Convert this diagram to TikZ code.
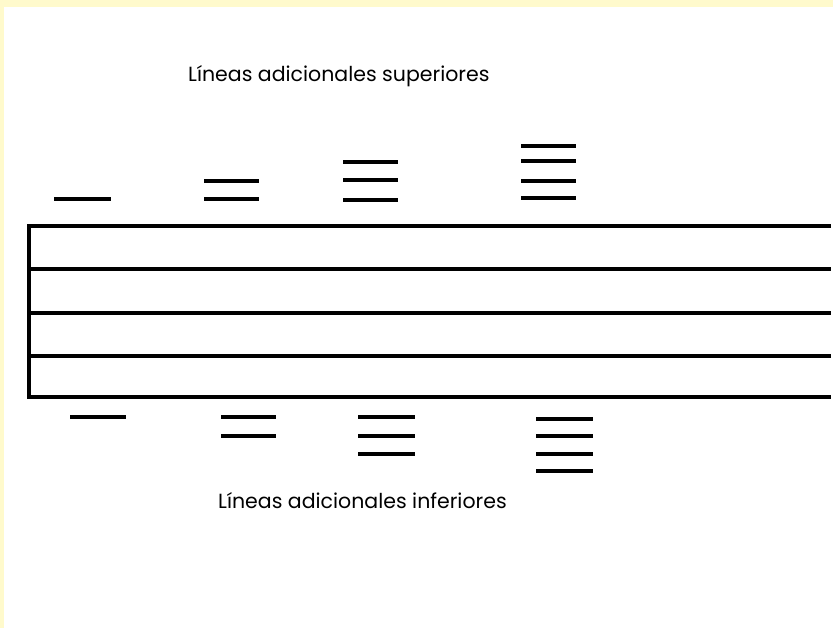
\documentclass[tikz,border=0pt]{standalone}
\usepackage{fontspec}
\setmainfont{Poppins}
\definecolor{marco}{RGB}{255,250,204}
\tikzset{
  pentagrama/.style={black, line width=3.8pt},
  adicional/.style={black, line width=3.8pt},
  rotulo/.style={font=\fontsize{20.5}{24}\selectfont, inner sep=0pt}
}
\begin{document}
\begin{tikzpicture}[x=1pt, y=-1pt]
  % fondo y marco
  \fill [marco] (0,0) rectangle (833,628);
  \fill [white] (4,7) rectangle (833,628);
  \useasboundingbox (0,0) rectangle (833,628);
  % pentagrama
  \foreach \y in {226,269,313,356,397}
    \draw [pentagrama] (28,\y) -- (831,\y);
  \draw [pentagrama] (29,224.1) -- (29,398.9);
  % lineas superiores
  \foreach \y in {199}
    \draw [adicional] (54,\y) -- (111,\y);
  \foreach \y in {181,199}
    \draw [adicional] (204,\y) -- (259,\y);
  \foreach \y in {162,180,200}
    \draw [adicional] (343,\y) -- (398,\y);
  \foreach \y in {146,161,181,198}
    \draw [adicional] (521,\y) -- (576,\y);
  % lineas inferiores
  \foreach \y in {417}
    \draw [adicional] (70,\y) -- (126,\y);
  \foreach \y in {417,436}
    \draw [adicional] (221,\y) -- (276,\y);
  \foreach \y in {417,436,454}
    \draw [adicional] (358,\y) -- (415,\y);
  \foreach \y in {419,436,454,471}
    \draw [adicional] (536,\y) -- (593,\y);
  % rotulos
  \node [rotulo, anchor=west] (superiores) at (188,76) {Líneas adicionales superiores};
  \node [rotulo, anchor=west] (inferiores) at (218,501) {Líneas adicionales inferiores};
\end{tikzpicture}
\end{document}
